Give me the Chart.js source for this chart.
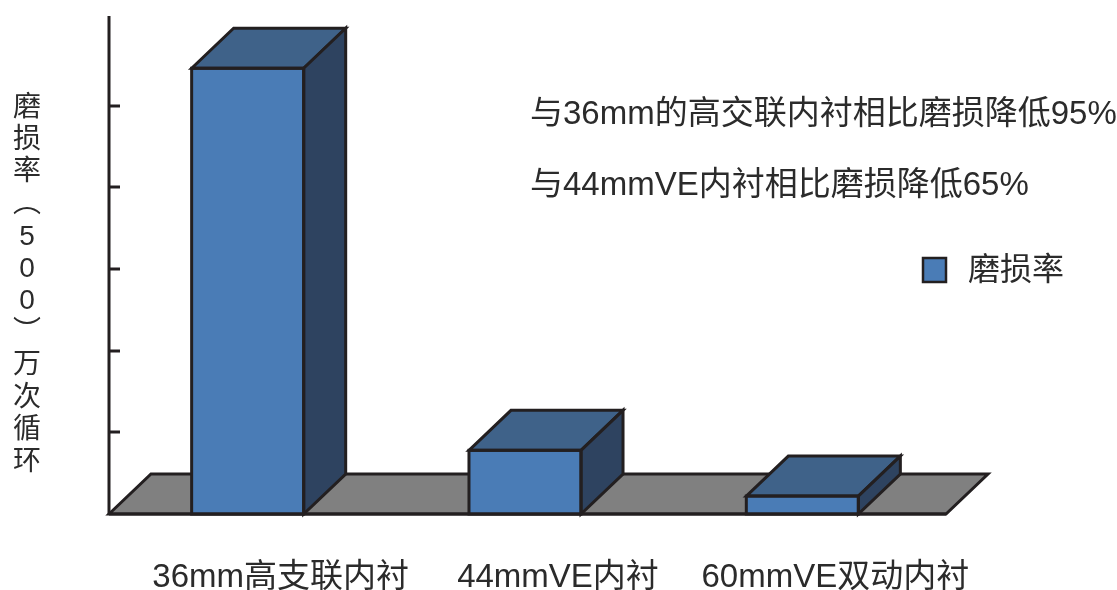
<!DOCTYPE html>
<html>
<head>
<meta charset="utf-8">
<script src="https://cdn.jsdelivr.net/npm/chart.js@4/dist/chart.umd.min.js"></script>
<style>
  html, body { margin: 0; padding: 0; background: #ffffff; }
  #wrap { width: 1117px; height: 590px; }
</style>
</head>
<body>
<div id="wrap"><canvas id="c" width="1117" height="590"></canvas></div>
<script>
// ---- data ----
const categories = ['36mm高支联内衬', '44mmVE内衬', '60mmVE双动内衬'];
const seriesName = '磨损率';
const wearRate = [5.46, 0.78, 0.22];
const tickValues = [1, 2, 3, 4, 5];
const yTitle = '磨损率（500）万次循环';
const notes = ['与36mm的高交联内衬相比磨损降低95%', '与44mmVE内衬相比磨损降低65%'];

// ---- styles ----
const FONT = '"Liberation Sans", "Noto Sans CJK SC", sans-serif';
const TEXT = '#2b2b2b';
const OUTLINE = '#231f20';
const FRONT = '#4a7cb6';
const TOP = '#3f6289';
const SIDE = '#2e4360';
const FLOOR = '#808080';
const DX = 42, DY = 40;

function poly(ctx, pts, fill) {
  ctx.beginPath();
  ctx.moveTo(pts[0][0], pts[0][1]);
  for (let i = 1; i < pts.length; i++) ctx.lineTo(pts[i][0], pts[i][1]);
  ctx.closePath();
  ctx.fillStyle = fill;
  ctx.fill();
  ctx.lineWidth = 3;
  ctx.lineJoin = 'miter';
  ctx.strokeStyle = OUTLINE;
  ctx.stroke();
}

const threeD = {
  id: 'threeD',
  beforeDatasetsDraw(chart) {
    const ctx = chart.ctx;
    const a = chart.chartArea;
    const left = a.left, right = a.right + 5, b = a.bottom;
    ctx.save();
    poly(ctx, [[left, b], [left + DX, b - DY], [right + DX, b - DY], [right, b]], FLOOR);
    ctx.restore();
  },
  afterDatasetsDraw(chart) {
    const ctx = chart.ctx;
    const meta = chart.getDatasetMeta(0);
    ctx.save();
    meta.data.forEach(bar => {
      const p = bar.getProps(['x', 'y', 'base', 'width'], true);
      const L = p.x - p.width / 2, R = p.x + p.width / 2, T = p.y, B = p.base;
      poly(ctx, [[L, T], [L + DX, T - DY], [R + DX, T - DY], [R, T]], TOP);
      poly(ctx, [[R, T], [R + DX, T - DY], [R + DX, B - DY], [R, B]], SIDE);
      ctx.lineWidth = 3;
      ctx.strokeStyle = OUTLINE;
      ctx.strokeRect(L, T, R - L, B - T);
    });
    ctx.restore();
  },
  afterDraw(chart) {
    const ctx = chart.ctx;
    const a = chart.chartArea;
    const ys = chart.scales.y;
    ctx.save();
    // y axis line
    ctx.strokeStyle = OUTLINE;
    ctx.lineWidth = 3;
    ctx.beginPath();
    ctx.moveTo(a.left, a.top);
    ctx.lineTo(a.left, a.bottom);
    ctx.stroke();
    // tick marks (inside)
    tickValues.forEach(v => {
      const y = Math.round(ys.getPixelForValue(v));
      ctx.beginPath();
      ctx.moveTo(a.left, y);
      ctx.lineTo(a.left + 11, y);
      ctx.stroke();
    });
    // bottom edge of the floor
    ctx.beginPath();
    ctx.moveTo(a.left, a.bottom);
    ctx.lineTo(a.right + 5, a.bottom);
    ctx.stroke();

    // vertical y title
    ctx.fillStyle = TEXT;
    ctx.font = '28px ' + FONT;
    ctx.textAlign = 'center';
    ctx.textBaseline = 'middle';
    const chars = Array.from(yTitle).map(c => c === '（' ? '︵' : c === '）' ? '︶' : c);
    chars.forEach((c, i) => {
      ctx.fillText(c, 27, 108 + i * 32.2);
    });

    // annotations
    ctx.font = '33px ' + FONT;
    ctx.textAlign = 'left';
    notes.forEach((t, i) => {
      ctx.fillText(t, 530, 115 + i * 71);
    });

    // legend
    const ds = chart.data.datasets[0];
    ctx.fillStyle = ds.backgroundColor;
    ctx.fillRect(923, 258, 23, 24);
    ctx.lineWidth = 2.5;
    ctx.strokeStyle = OUTLINE;
    ctx.strokeRect(923, 258, 23, 24);
    ctx.fillStyle = TEXT;
    ctx.font = '32px ' + FONT;
    ctx.fillText(ds.label, 968, 271);
    ctx.restore();
  }
};

new Chart(document.getElementById('c'), {
  type: 'bar',
  data: {
    labels: categories,
    datasets: [{
      label: seriesName,
      data: wearRate,
      backgroundColor: FRONT,
      borderColor: OUTLINE,
      borderWidth: 0,
      barPercentage: 1,
      categoryPercentage: 0.404
    }]
  },
  options: {
    responsive: false,
    animation: false,
    layout: { padding: { left: 109, right: 176, top: 16, bottom: 0 } },
    plugins: { legend: { display: false }, tooltip: { enabled: false }, title: { display: false } },
    scales: {
      x: {
        grid: { display: false, drawTicks: false },
        border: { display: false },
        ticks: { color: TEXT, font: { family: FONT, size: 33 }, padding: 44, labelOffset: 33, maxRotation: 0, autoSkip: false },
        afterFit(s) { s.height = 76; }
      },
      y: {
        min: 0,
        max: 6.1,
        grid: { display: false, drawTicks: false },
        border: { display: false },
        ticks: { display: false },
        afterFit(s) { s.width = 0; }
      }
    }
  },
  plugins: [threeD]
});
</script>
</body>
</html>
